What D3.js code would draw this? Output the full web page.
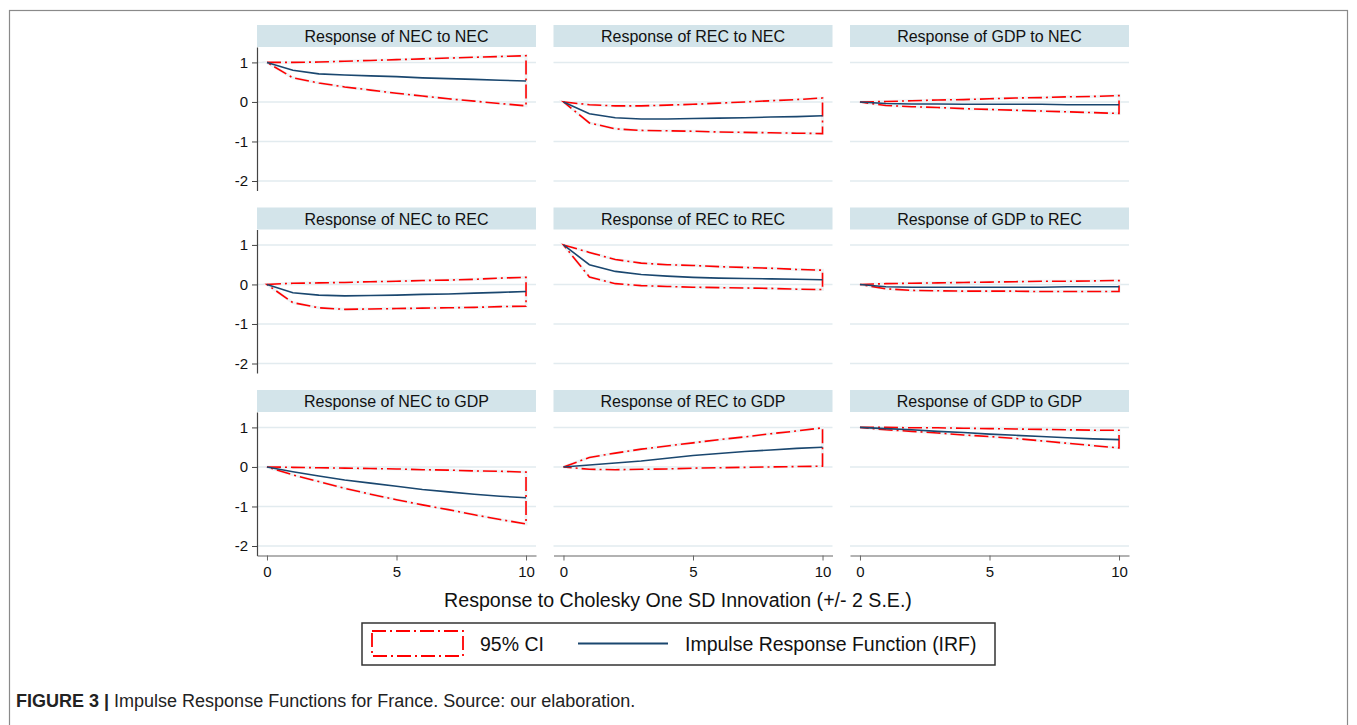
<!DOCTYPE html>
<html>
<head>
<meta charset="utf-8">
<script src="https://cdn.jsdelivr.net/npm/d3@7"></script>
<style>
  body { margin: 0; background: #fff; }
  svg { display: block; font-family: "Liberation Sans", Arial, sans-serif; }
</style>
</head>
<body>
<script>
// horizon (steps) and labels
var steps = [0, 1, 2, 3, 4, 5, 6, 7, 8, 9, 10];
var variables = ["NEC", "REC", "GDP"];
var yTicks = [-2, -1, 0, 1];
var xTicks = [0, 5, 10];

// impulse NEC
var irfNecNec = [1, 0.80, 0.71, 0.68, 0.66, 0.64, 0.61, 0.59, 0.57, 0.55, 0.53];
var hiNecNec  = [1, 1.00, 1.01, 1.03, 1.05, 1.07, 1.09, 1.11, 1.13, 1.15, 1.17];
var loNecNec  = [1, 0.61, 0.48, 0.38, 0.30, 0.22, 0.15, 0.08, 0.02, -0.04, -0.10];

var irfRecNec = [0, -0.30, -0.40, -0.43, -0.43, -0.42, -0.41, -0.40, -0.38, -0.37, -0.35];
var hiRecNec  = [0, -0.07, -0.10, -0.10, -0.08, -0.06, -0.03, 0.00, 0.03, 0.06, 0.10];
var loRecNec  = [0, -0.53, -0.68, -0.72, -0.73, -0.74, -0.76, -0.77, -0.78, -0.79, -0.80];

var irfGdpNec = [0, -0.04, -0.05, -0.05, -0.06, -0.06, -0.06, -0.06, -0.07, -0.07, -0.07];
var hiGdpNec  = [0, 0.01, 0.03, 0.05, 0.06, 0.08, 0.10, 0.11, 0.13, 0.14, 0.16];
var loGdpNec  = [0, -0.09, -0.12, -0.14, -0.17, -0.19, -0.21, -0.23, -0.25, -0.27, -0.29];

// impulse REC
var irfNecRec = [0, -0.21, -0.27, -0.29, -0.28, -0.27, -0.25, -0.24, -0.22, -0.20, -0.18];
var hiNecRec  = [0, 0.03, 0.04, 0.05, 0.07, 0.08, 0.10, 0.11, 0.13, 0.16, 0.18];
var loNecRec  = [0, -0.46, -0.59, -0.63, -0.62, -0.61, -0.60, -0.59, -0.58, -0.56, -0.55];

var irfRecRec = [1, 0.50, 0.33, 0.25, 0.21, 0.18, 0.16, 0.15, 0.14, 0.13, 0.12];
var hiRecRec  = [1, 0.81, 0.63, 0.54, 0.50, 0.48, 0.45, 0.43, 0.41, 0.38, 0.36];
var loRecRec  = [1, 0.19, 0.02, -0.03, -0.05, -0.07, -0.08, -0.09, -0.10, -0.12, -0.13];

var irfGdpRec = [0, -0.06, -0.07, -0.07, -0.07, -0.07, -0.07, -0.07, -0.06, -0.06, -0.06];
var hiGdpRec  = [0, 0.02, 0.03, 0.04, 0.05, 0.06, 0.07, 0.08, 0.08, 0.09, 0.10];
var loGdpRec  = [0, -0.11, -0.15, -0.16, -0.17, -0.17, -0.17, -0.18, -0.18, -0.18, -0.18];

// impulse GDP
var irfNecGdp = [0, -0.12, -0.23, -0.33, -0.41, -0.49, -0.57, -0.63, -0.69, -0.74, -0.78];
var hiNecGdp  = [0, -0.01, -0.02, -0.03, -0.04, -0.05, -0.07, -0.08, -0.10, -0.11, -0.13];
var loNecGdp  = [0, -0.20, -0.37, -0.54, -0.69, -0.83, -0.96, -1.08, -1.21, -1.33, -1.44];

var irfRecGdp = [0, 0.05, 0.10, 0.15, 0.22, 0.29, 0.34, 0.39, 0.43, 0.47, 0.50];
var hiRecGdp  = [0, 0.24, 0.35, 0.45, 0.53, 0.61, 0.69, 0.76, 0.84, 0.91, 0.99];
var loRecGdp  = [0, -0.06, -0.07, -0.06, -0.05, -0.03, -0.02, -0.01, 0.00, 0.01, 0.02];

var irfGdpGdp = [1, 0.97, 0.94, 0.90, 0.87, 0.83, 0.80, 0.77, 0.74, 0.71, 0.69];
var hiGdpGdp  = [1, 1.00, 0.99, 0.99, 0.98, 0.97, 0.96, 0.95, 0.94, 0.93, 0.93];
var loGdpGdp  = [1, 0.94, 0.90, 0.86, 0.81, 0.77, 0.72, 0.66, 0.60, 0.54, 0.48];

// rows = impulse, cols = response
var panels = [
  [ {irf: irfNecNec, hi: hiNecNec, lo: loNecNec}, {irf: irfRecNec, hi: hiRecNec, lo: loRecNec}, {irf: irfGdpNec, hi: hiGdpNec, lo: loGdpNec} ],
  [ {irf: irfNecRec, hi: hiNecRec, lo: loNecRec}, {irf: irfRecRec, hi: hiRecRec, lo: loRecRec}, {irf: irfGdpRec, hi: hiGdpRec, lo: loGdpRec} ],
  [ {irf: irfNecGdp, hi: hiNecGdp, lo: loNecGdp}, {irf: irfRecGdp, hi: hiRecGdp, lo: loRecGdp}, {irf: irfGdpGdp, hi: hiGdpGdp, lo: loGdpGdp} ]
];

var W = 1357, H = 725;
var colLeft = [257, 553.5, 850];
var panelW = 279;
var stripTop = [25, 207.5, 390];
var stripH = 22;
var plotH = 143.5;

var navy = "#1a476f";
var red = "#ff0000";
var dashDot = "14,4,2,4";

var svg = d3.select("body").append("svg")
  .attr("width", W)
  .attr("height", H);

// figure frame
svg.append("rect")
  .attr("x", 9.5).attr("y", 10.5)
  .attr("width", 1338).attr("height", 740)
  .attr("fill", "none")
  .attr("stroke", "#8a8a8a")
  .attr("stroke-width", 1.2);

var yScale = d3.scaleLinear().domain([-2.24, 1.39]).range([plotH, 0]);

panels.forEach(function(row, r) {
  row.forEach(function(p, c) {
    var g = svg.append("g")
      .attr("transform", "translate(" + colLeft[c] + "," + stripTop[r] + ")");

    // strip title
    g.append("rect")
      .attr("width", panelW).attr("height", stripH)
      .attr("fill", "#d3e4ea");
    g.append("text")
      .attr("x", panelW / 2).attr("y", stripH / 2 + 6)
      .attr("text-anchor", "middle")
      .attr("font-size", "16px")
      .attr("fill", "#111")
      .text("Response of " + variables[c] + " to " + variables[r]);

    var plot = g.append("g").attr("transform", "translate(0," + stripH + ")");

    var xScale = d3.scaleLinear().domain([-0.385, 10.385]).range([0, panelW]);

    // grid
    plot.selectAll("line.grid")
      .data(yTicks)
      .enter()
      .append("line")
      .attr("class", "grid")
      .attr("x1", 0).attr("x2", panelW)
      .attr("y1", function(d) { return yScale(d); })
      .attr("y2", function(d) { return yScale(d); })
      .attr("stroke", "#e2ebef")
      .attr("stroke-width", 1.5);

    var line = d3.line()
      .x(function(d) { return xScale(d[0]); })
      .y(function(d) { return yScale(d[1]); });

    // CI band outline (closed)
    var band = steps.map(function(s, i) { return [s, p.hi[i]]; })
      .concat(steps.slice().reverse().map(function(s) { return [s, p.lo[s]]; }));

    plot.append("path")
      .attr("d", line(band) + "Z")
      .attr("fill", "none")
      .attr("stroke", "#eef3f5")
      .attr("stroke-width", 3);

    plot.append("path")
      .attr("d", line(band) + "Z")
      .attr("fill", "none")
      .attr("stroke", red)
      .attr("stroke-width", 1.6)
      .attr("stroke-dasharray", dashDot);

    plot.append("path")
      .attr("d", line(steps.map(function(s, i) { return [s, p.irf[i]]; })))
      .attr("fill", "none")
      .attr("stroke", navy)
      .attr("stroke-width", 1.6);

    if (c === 0) {
      var ya = plot.append("g")
        .call(d3.axisLeft(yScale).tickValues(yTicks).tickSize(5).tickSizeOuter(0).tickPadding(4)
          .tickFormat(function(d) { return String(d); }));
      ya.select(".domain").attr("stroke", "#444").attr("stroke-width", 1.2);
      ya.selectAll(".tick line").attr("stroke", "#444");
      ya.selectAll("text").attr("font-size", "15px").attr("fill", "#111")
        .attr("font-family", "Liberation Sans, Arial, sans-serif");
    }
    if (r === 2) {
      var xa = plot.append("g")
        .attr("transform", "translate(0," + plotH + ")")
        .call(d3.axisBottom(xScale).tickValues(xTicks).tickSize(5).tickSizeOuter(0).tickPadding(6)
          .tickFormat(function(d) { return String(d); }));
      xa.select(".domain").attr("stroke", "#666").attr("stroke-width", 1.2);
      xa.selectAll(".tick line").attr("stroke", "#666");
      xa.selectAll("text").attr("font-size", "15px").attr("fill", "#111")
        .attr("font-family", "Liberation Sans, Arial, sans-serif");
    }
  });
});

// axis title
svg.append("text")
  .attr("x", 678).attr("y", 607)
  .attr("text-anchor", "middle")
  .attr("font-size", "19.6px")
  .attr("fill", "#111")
  .text("Response to Cholesky One SD Innovation (+/- 2 S.E.)");

// legend
var leg = svg.append("g");
leg.append("rect")
  .attr("x", 362).attr("y", 623)
  .attr("width", 633).attr("height", 42)
  .attr("fill", "#fff")
  .attr("stroke", "#333")
  .attr("stroke-width", 1.5);
leg.append("rect")
  .attr("x", 372).attr("y", 631)
  .attr("width", 91).attr("height", 25)
  .attr("fill", "none")
  .attr("stroke", red)
  .attr("stroke-width", 1.8)
  .attr("stroke-dasharray", dashDot);
leg.append("text")
  .attr("x", 480).attr("y", 651)
  .attr("font-size", "19.5px").attr("fill", "#111")
  .text("95% CI");
leg.append("line")
  .attr("x1", 578).attr("x2", 668)
  .attr("y1", 643.5).attr("y2", 643.5)
  .attr("stroke", navy)
  .attr("stroke-width", 1.8);
leg.append("text")
  .attr("x", 685).attr("y", 651)
  .attr("font-size", "19.5px").attr("fill", "#111")
  .text("Impulse Response Function (IRF)");

// caption
var cap = svg.append("text")
  .attr("x", 16).attr("y", 707)
  .attr("font-size", "18px")
  .attr("fill", "#222");
cap.append("tspan").attr("font-weight", "bold").text("FIGURE 3 | ");
cap.append("tspan").text("Impulse Response Functions for France. Source: our elaboration.");
</script>
</body>
</html>
